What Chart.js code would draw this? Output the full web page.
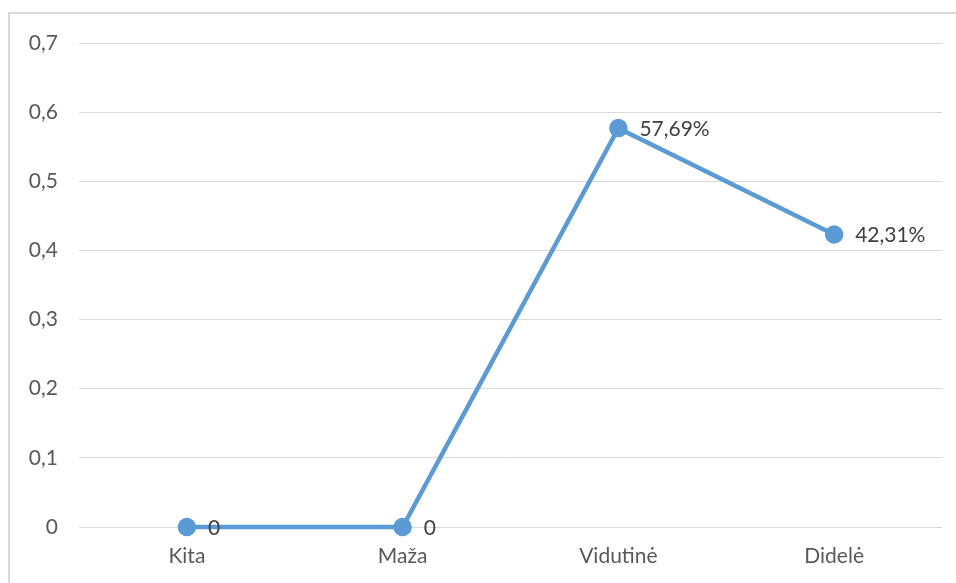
<!DOCTYPE html>
<html>
<head>
<meta charset="utf-8">
<script src="https://cdn.jsdelivr.net/npm/chart.js@4"></script>
<style>
  body { margin: 0; background: #fff; overflow: hidden; }
  #frame { position: absolute; left: 8px; top: 12px; width: 960px; height: 590px; border: 2px solid #d9d9d9; box-sizing: border-box; }
  #wrap { position: absolute; left: 0; top: 0; width: 956px; height: 583px; }
</style>
</head>
<body>
<div id="frame"></div>
<div id="wrap"><canvas id="myChart"></canvas></div>
<script>
const labels = ["Kita", "Maža", "Vidutinė", "Didelė"];
const values = [0, 0, 0.5769, 0.4231];
const valueLabels = ["0", "0", "57,69%", "42,31%"];

const pointLabels = {
    id: "pointLabels",
    afterDatasetsDraw(chart) {
        const ctx = chart.ctx;
        const meta = chart.getDatasetMeta(0);
        ctx.save();
        ctx.font = "21px Lato";
        ctx.fillStyle = "#404040";
        ctx.textBaseline = "middle";
        ctx.textAlign = "left";
        meta.data.forEach((pt, i) => {
            ctx.fillText(valueLabels[i], pt.x + 21, pt.y + 1);
        });
        ctx.restore();
    },
};

const data = {
    labels: labels,
    datasets: [
        {
            data: values,
            borderColor: "#5b9bd5",
            backgroundColor: "#5b9bd5",
            borderWidth: 4.5,
            pointRadius: 7,
            pointHoverRadius: 7,
            tension: 0,
            clip: false,
        },
    ],
};

const config = {
    type: "line",
    data: data,
    plugins: [pointLabels],
    options: {
        responsive: true,
        maintainAspectRatio: false,
        animation: false,
        layout: { padding: { top: 43, right: 14, bottom: 0, left: 0 } },
        plugins: { legend: { display: false }, tooltip: { enabled: false } },
        scales: {
            x: {
                offset: true,
                afterFit(scale) { scale.height = 56; },
                grid: { display: false, drawTicks: false },
                border: { display: false },
                ticks: { color: "#595959", font: { family: "Lato", size: 21 }, padding: 17 },
            },
            y: {
                min: 0,
                max: 0.7,
                afterFit(scale) { scale.width = 79; },
                grid: { color: "#d9d9d9", lineWidth: 1, drawTicks: false },
                border: { display: false },
                ticks: {
                    stepSize: 0.1,
                    color: "#595959",
                    font: { family: "Lato", size: 21 },
                    padding: 21,
                    callback: (v) => (v === 0 ? "0" : v.toFixed(1).replace(".", ",")),
                },
            },
        },
    },
};

const myChart = new Chart(document.getElementById("myChart"), config);
</script>
</body>
</html>
